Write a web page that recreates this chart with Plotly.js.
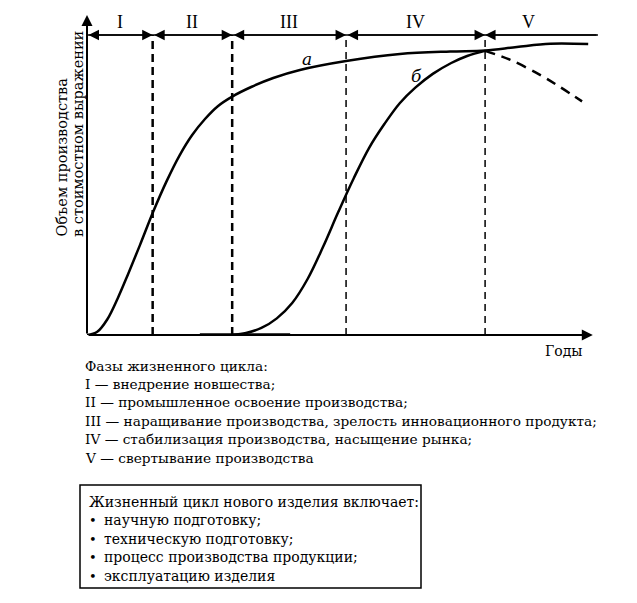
<!DOCTYPE html>
<html>
<head>
<meta charset="utf-8">
<script src="https://cdn.plot.ly/plotly-3.0.1.min.js"></script>
<style>html,body{margin:0;padding:0;background:#fff;}#chart{width:637px;height:603px;}</style>
</head>
<body>
<div id="chart"></div>
<script>
// ---- data ----
const phaseLabels = ['I', 'II', 'III', 'IV', 'V'];
const phaseBounds = [0, 12.8, 28.3, 50.5, 77.6, 99.6];
const phaseLineY = 93.75;

const curveAX = [0, 2, 4, 6, 8, 10.3, 12.9, 15.5, 18, 20.5, 23, 25.5, 28.3, 32, 36.3, 41.5, 50.5, 61, 70.8, 77.6, 83.8, 90.3, 97.7];
const curveAY = [0, 1, 5, 11.5, 19, 28, 38.5, 48, 56, 62.5, 67.5, 71.5, 74.5, 77.5, 80.3, 82.8, 85.6, 87.8, 88.6, 88.9, 90.0, 91.0, 90.9];

const curveBX = [28.3, 31, 34, 37, 40, 43, 46, 49, 52, 55, 58, 61, 64, 67.4, 71, 74.1, 77.6];
const curveBY = [0, 0.6, 2.2, 5.2, 10, 17.5, 27.5, 38.5, 49, 58.5, 66, 72.5, 77.3, 81.6, 85, 87.2, 88.8];

const declineX = [77.6, 82.5, 88.3, 92.2, 96.5];
const declineY = [88.8, 86.0, 81.3, 77.5, 73.0];

const baselineX = [22, 39.6];
const baselineY = [0, 0];

const curveLabels = ['a', 'б'];
const curveLabelX = [42.9, 64.3];
const curveLabelY = [86.2, 80.9];

const yTitleLines = ['Объем производства', 'в стоимостном выражении'];
const xTitle = 'Годы';

const phaseTitle = 'Фазы жизненного цикла:';
const phaseDescr = [
  'I — внедрение новшества;',
  'II — промышленное освоение производства;',
  'III — наращивание производства, зрелость инновационного продукта;',
  'IV — стабилизация производства, насыщение рынка;',
  'V — свертывание производства'
];
const boxTitle = 'Жизненный цикл нового изделия включает:';
const boxItems = ['научную подготовку;', 'техническую подготовку;', 'процесс производства продукции;', 'эксплуатацию изделия'];

// ---- geometry helpers (pixel -> paper) ----
const L = 87, R = 37, T = 15, B = 268, W = 637, H = 603;
const pw = W - L - R, ph = H - T - B;
const px = v => (v - L) / pw;
const py = v => (H - B - v) / ph;

const FONT = 'DejaVu Serif, serif';
const LATIN = 'Liberation Serif, serif';

const traces = [
  {x: curveAX, y: curveAY, mode: 'lines', line: {color: '#000', width: 2.5, shape: 'spline', smoothing: 1}, hoverinfo: 'skip'},
  {x: curveBX, y: curveBY, mode: 'lines', line: {color: '#000', width: 2.5, shape: 'spline', smoothing: 1}, hoverinfo: 'skip'},
  {x: declineX, y: declineY, mode: 'lines', line: {color: '#000', width: 2.5, shape: 'spline', dash: '10px,7px'}, hoverinfo: 'skip'},
  {x: baselineX, y: baselineY, mode: 'lines', line: {color: '#000', width: 3.5}, hoverinfo: 'skip'},
  {x: [phaseBounds[0], phaseBounds[5]], y: [phaseLineY, phaseLineY], mode: 'lines', line: {color: '#000', width: 1.5}, hoverinfo: 'skip'}
];

const shapes = [];
for (let i = 1; i <= 4; i++) {
  shapes.push({type: 'line', xref: 'x', yref: 'y', x0: phaseBounds[i], x1: phaseBounds[i], y0: 0, y1: phaseLineY,
    line: {color: '#000', width: i <= 2 ? 2.5 : 1.5, dash: i <= 2 ? '8px,5px' : '7px,5px'}});
}
shapes.push({type: 'rect', xref: 'paper', yref: 'paper', x0: px(80), x1: px(421), y0: py(485), y1: py(588),
  line: {color: '#000', width: 1.5}, fillcolor: 'rgba(0,0,0,0)'});

const annotations = [];
annotations.push({xref: 'x', yref: 'y', axref: 'x', ayref: 'y', x: 0, y: 100, ax: 0, ay: 0, showarrow: true, arrowhead: 2, arrowsize: 1.1, arrowwidth: 2, arrowcolor: '#000', text: '', standoff: 0});
annotations.push({xref: 'x', yref: 'y', axref: 'x', ayref: 'y', x: 98.6, y: 0, ax: 0, ay: 0, showarrow: true, arrowhead: 2, arrowsize: 1.1, arrowwidth: 2, arrowcolor: '#000', text: '', standoff: 0});
for (let i = 0; i < 5; i++) {
  const last = i === 4;
  annotations.push({xref: 'x', yref: 'y', axref: 'x', ayref: 'y',
    x: last ? phaseBounds[i] : phaseBounds[i + 1], y: phaseLineY,
    ax: last ? phaseBounds[i + 1] : phaseBounds[i], ay: phaseLineY,
    showarrow: true, arrowhead: 2, startarrowhead: 2, arrowside: last ? 'end' : 'end+start',
    arrowsize: 1.4, startarrowsize: 1.4, arrowwidth: 1.5, arrowcolor: '#000', text: '', standoff: 0, startstandoff: 0});
  annotations.push({xref: 'x', yref: 'y', x: (phaseBounds[i] + phaseBounds[i + 1]) / 2 + (last ? -2.5 : 0), y: 97.8,
    text: phaseLabels[i], showarrow: false, font: {family: LATIN, size: 18, color: '#000'}, yanchor: 'middle'});
}
for (let i = 0; i < curveLabels.length; i++) {
  annotations.push({xref: 'x', yref: 'y', x: curveLabelX[i], y: curveLabelY[i], text: '<i>' + curveLabels[i] + '</i>',
    showarrow: false, font: {family: FONT, size: 17, color: '#000'}});
}
const yTitleX = [61, 78];
for (let i = 0; i < 2; i++) {
  annotations.push({xref: 'paper', yref: 'paper', x: px(yTitleX[i]), y: py(239), text: yTitleLines[i], textangle: -90,
    xanchor: 'center', yanchor: 'bottom', showarrow: false, font: {family: FONT, size: 14.5, color: '#000'}});
}
annotations.push({xref: 'paper', yref: 'paper', x: px(563), y: py(351), text: xTitle, showarrow: false,
  font: {family: FONT, size: 14, color: '#000'}, xanchor: 'center', yanchor: 'middle'});
const descY = [366, 384, 402, 421, 439, 458];
const descLines = [phaseTitle].concat(phaseDescr);
for (let i = 0; i < descLines.length; i++) {
  annotations.push({xref: 'paper', yref: 'paper', x: px(83), y: py(descY[i]), text: descLines[i], showarrow: false,
    xanchor: 'left', yanchor: 'middle', font: {family: FONT, size: 13.7, color: '#000'}});
}
const boxY = [502, 520, 539, 557, 576];
annotations.push({xref: 'paper', yref: 'paper', x: px(87), y: py(boxY[0]), text: boxTitle, showarrow: false,
  xanchor: 'left', yanchor: 'middle', font: {family: FONT, size: 14, color: '#000'}});
for (let i = 0; i < boxItems.length; i++) {
  annotations.push({xref: 'paper', yref: 'paper', x: px(87), y: py(boxY[i + 1]), text: '•', showarrow: false,
    xanchor: 'left', yanchor: 'middle', font: {family: FONT, size: 13, color: '#000'}});
  annotations.push({xref: 'paper', yref: 'paper', x: px(102), y: py(boxY[i + 1]), text: boxItems[i], showarrow: false,
    xanchor: 'left', yanchor: 'middle', font: {family: FONT, size: 14, color: '#000'}});
}

const layout = {
  width: W, height: H,
  margin: {l: L, r: R, t: T, b: B, pad: 0},
  paper_bgcolor: '#fff', plot_bgcolor: '#fff',
  showlegend: false,
  xaxis: {range: [0, 100], visible: false, fixedrange: true},
  yaxis: {range: [0, 100], visible: false, fixedrange: true},
  shapes: shapes,
  annotations: annotations
};

Plotly.newPlot('chart', traces, layout, {staticPlot: true, displayModeBar: false});
</script>
</body>
</html>
